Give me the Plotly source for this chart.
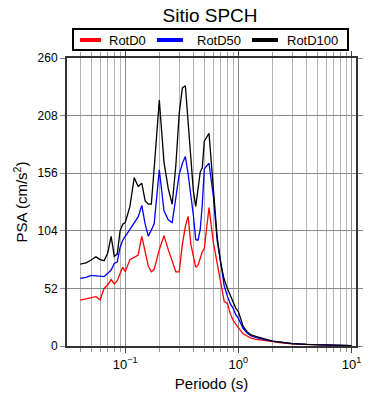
import plotly.graph_objects as go

# Periods (s)
periods = [0.04, 0.045, 0.05, 0.055, 0.06, 0.065, 0.07, 0.075, 0.08, 0.085, 0.09, 0.095,
           0.1, 0.11, 0.12, 0.13, 0.14, 0.15, 0.16, 0.17, 0.18, 0.2, 0.22, 0.24, 0.26, 0.28,
           0.3, 0.32, 0.34, 0.36, 0.38, 0.4, 0.42, 0.44, 0.46, 0.48, 0.5, 0.55, 0.6, 0.65,
           0.7, 0.75, 0.8, 0.85, 0.9, 0.95, 1.0, 1.1, 1.2, 1.3, 1.4, 1.5, 1.7, 2.0, 2.5,
           3.0, 4.0, 5.0, 6.0, 7.0, 8.0, 10.0]

rotd0 = [41.5, 42.5, 43, 44.5, 41.5, 52, 55, 60, 56, 59, 65.5, 71,
         67, 78, 80, 82, 99, 85, 72, 67, 69, 87, 99.6, 87, 76, 67,
         67, 92, 108, 117, 92, 80, 71, 73, 79, 85, 88, 125, 94, 75,
         58, 40, 38.5, 29, 23, 19, 16.5, 11, 8.5, 7, 6.3, 5.8, 5.0, 4.0, 2.6,
         2.0, 1.2, 0.9, 0.7, 0.5, 0.45, 0.35]

rotd50 = [61, 62, 63.8, 63.2, 62.6, 62.6, 65.6, 68.6, 74.6, 76, 89, 95.5,
          99, 105.5, 111, 116.5, 127, 110, 99, 104.7, 110, 159, 122, 114, 111.5, 134,
          155, 165, 171, 155, 138, 118, 96, 95.5, 105, 128, 160, 165, 136, 95,
          75, 54, 45, 38, 34, 28, 25, 16, 11.5, 9, 8, 7, 5.7, 4.5, 3,
          2.2, 1.4, 1.0, 0.8, 0.6, 0.5, 0.4]

rotd100 = [74, 75, 77.6, 80.5, 78, 77, 84, 99, 81, 83, 104, 110,
           111.5, 126, 152, 144, 147, 131, 128, 128, 160, 222, 166, 142, 128, 163,
           210, 233, 235, 202, 170, 140, 126, 142, 157, 161, 185, 192, 146, 98,
           74, 60, 52, 45, 40, 34, 31, 18, 12.5, 10, 9, 8.3, 6.5, 4.5, 3,
           2.2, 1.5, 1.1, 0.8, 0.6, 0.5, 0.4]

series_names = ["RotD0", "RotD50", "RotD100"]
series_colors = ["red", "blue", "black"]

x_tickvals = [0.1, 1, 10]
x_ticktext = ["10<sup>\u22121</sup>", "10<sup>0</sup>", "10<sup>1</sup>"]
x_minorvals = [0.03, 0.04, 0.05, 0.06, 0.07, 0.08, 0.09,
               0.2, 0.3, 0.4, 0.5, 0.6, 0.7, 0.8, 0.9,
               2, 3, 4, 5, 6, 7, 8, 9]
y_tickvals = [0, 52, 104, 156, 208, 260]

FONT = "Liberation Sans, Arial, sans-serif"

W, H = 390, 400
OFF = 8  # page body margin
L, R, T, B = 59, 42, 50, 62
PW, PH = W - L - R, H - T - B


def px_x(p):
    # screen x -> paper x
    return (p - OFF - L) / PW


def px_y(p):
    # screen y -> paper y
    return (H - B - (p - OFF)) / PH


fig = go.Figure()
for name, color, vals in zip(series_names, series_colors, [rotd0, rotd50, rotd100]):
    fig.add_trace(go.Scatter(x=periods, y=vals, mode="lines", name=name,
                             line=dict(color=color, width=1.3), showlegend=False))

# Legend drawn in paper coordinates
shapes = [dict(type="rect", xref="paper", yref="paper",
               x0=px_x(73), x1=px_x(348), y0=px_y(50), y1=px_y(29),
               line=dict(color="black", width=2), fillcolor="white", layer="above")]
annotations = []
leg_line_x = [(80, 101), (157, 183), (252, 278)]
leg_text_x = [107, 195, 285]
for name, color, (a, b), tx in zip(series_names, series_colors, leg_line_x, leg_text_x):
    shapes.append(dict(type="line", xref="paper", yref="paper",
                       x0=px_x(a), x1=px_x(b), y0=px_y(40), y1=px_y(40),
                       line=dict(color=color, width=4), layer="above"))
    annotations.append(dict(text=name, xref="paper", yref="paper", x=px_x(tx), y=px_y(40),
                            xanchor="left", yanchor="middle", showarrow=False,
                            font=dict(size=13, family=FONT, color="black")))

fig.update_layout(
    width=W, height=H,
    margin=dict(l=L, r=R, t=T, b=B, autoexpand=False),
    paper_bgcolor="white", plot_bgcolor="white",
    font=dict(family=FONT, color="black", size=13),
    title=dict(text="Sitio SPCH", x=(210 - OFF) / W, xanchor="center",
               y=1 - (15.5 - OFF) / H, yanchor="middle",
               font=dict(size=19, family=FONT, color="black")),
    shapes=shapes, annotations=annotations,
    showlegend=False,
)

fig.update_xaxes(
    type="log", range=[-1.515, 1.04],
    tickvals=x_tickvals, ticktext=x_ticktext,
    showgrid=True, gridcolor="#8a8a8a", gridwidth=1,
    ticks="outside", ticklen=5, tickcolor="#444",
    minor=dict(tickvals=x_minorvals, showgrid=True, gridcolor="#b5b5b5", gridwidth=1,
               ticks="outside", ticklen=4, tickcolor="#999"),
    showline=True, linecolor="#333", linewidth=2, mirror="ticks",
    tickfont=dict(size=13, family=FONT),
    title=dict(text="Periodo (s)", font=dict(size=15, family=FONT), standoff=8),
    zeroline=False,
)
fig.update_yaxes(
    range=[0, 260], tickvals=y_tickvals,
    showgrid=True, gridcolor="#8a8a8a", gridwidth=1,
    ticks="outside", ticklen=5, tickcolor="#888",
    showline=True, linecolor="#333", linewidth=2, mirror="ticks",
    tickfont=dict(size=12, family=FONT),
    title=dict(text="PSA (cm/s<sup>2</sup>)", font=dict(size=15, family=FONT), standoff=6),
    zeroline=False,
)

fig.write_html("out.html")
